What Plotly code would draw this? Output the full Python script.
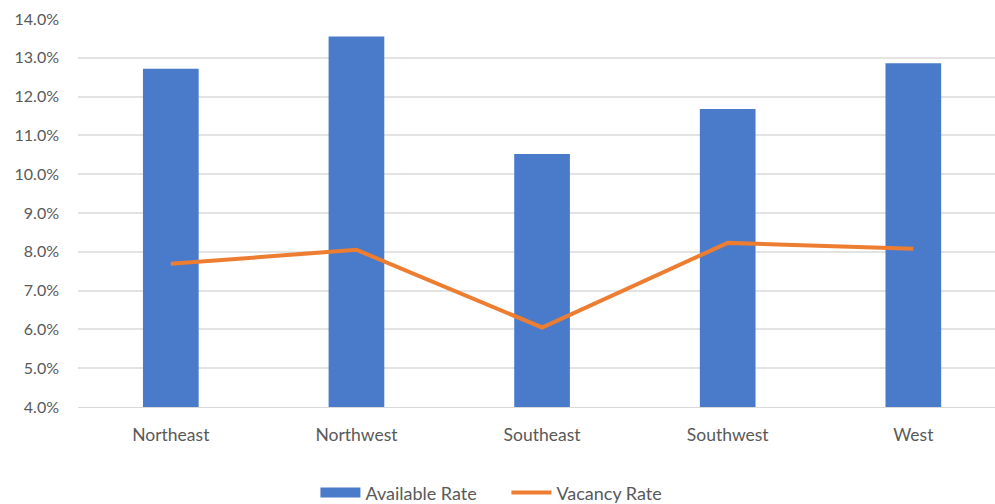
import plotly.graph_objects as go

regions = ["Northeast", "Northwest", "Southeast", "Southwest", "West"]
available_rate = [12.72, 13.55, 10.52, 11.68, 12.86]
vacancy_rate = [7.69, 8.05, 6.05, 8.23, 8.08]
y_ticks = [4, 5, 6, 7, 8, 9, 10, 11, 12, 13, 14]
y_tick_text = [f"{v:.1f}%" for v in y_ticks]

font_family = "Lato, 'Liberation Sans', sans-serif"
text_grey = "#595959"
bar_blue = "#4a7bcb"
line_orange = "#ed7d31"

fig = go.Figure()
fig.add_trace(go.Bar(
    x=regions, y=available_rate, name="Available Rate",
    marker=dict(color=bar_blue, line=dict(width=0)),
    width=0.30, showlegend=False,
))
# Wide flat legend key for the bar series
fig.add_trace(go.Scatter(
    x=[None], y=[None], name="Available Rate", mode="lines",
    line=dict(color=bar_blue, width=10),
))
fig.add_trace(go.Scatter(
    x=regions, y=vacancy_rate, name="Vacancy Rate",
    mode="lines", line=dict(color=line_orange, width=4),
))

fig.update_layout(
    width=995, height=504,
    margin=dict(l=78, r=0, t=19, b=97),
    paper_bgcolor="white", plot_bgcolor="white",
    font=dict(family=font_family, color=text_grey, size=17),
    showlegend=True,
    legend=dict(
        orientation="h", xref="container", x=0.317, xanchor="left",
        yref="container", y=0.022, yanchor="middle",
        font=dict(size=18, color=text_grey),
        entrywidth=136, entrywidthmode="pixels",
        itemwidth=40, tracegroupgap=0,
    ),
    xaxis=dict(
        range=[-0.5, 4.44], showgrid=False,
        showline=True, linecolor="#d9d9d9", linewidth=1,
        ticks="", ticklabelstandoff=12,
        tickfont=dict(size=17.5, color=text_grey),
    ),
    yaxis=dict(
        range=[4, 14], tickvals=y_ticks, ticktext=y_tick_text,
        showgrid=True, gridcolor="#e3e3e3", gridwidth=1.5,
        zeroline=False, showline=False, ticks="",
        ticklabelstandoff=18,
        tickfont=dict(size=16, color=text_grey),
    ),
)

fig.write_html("out.html")
